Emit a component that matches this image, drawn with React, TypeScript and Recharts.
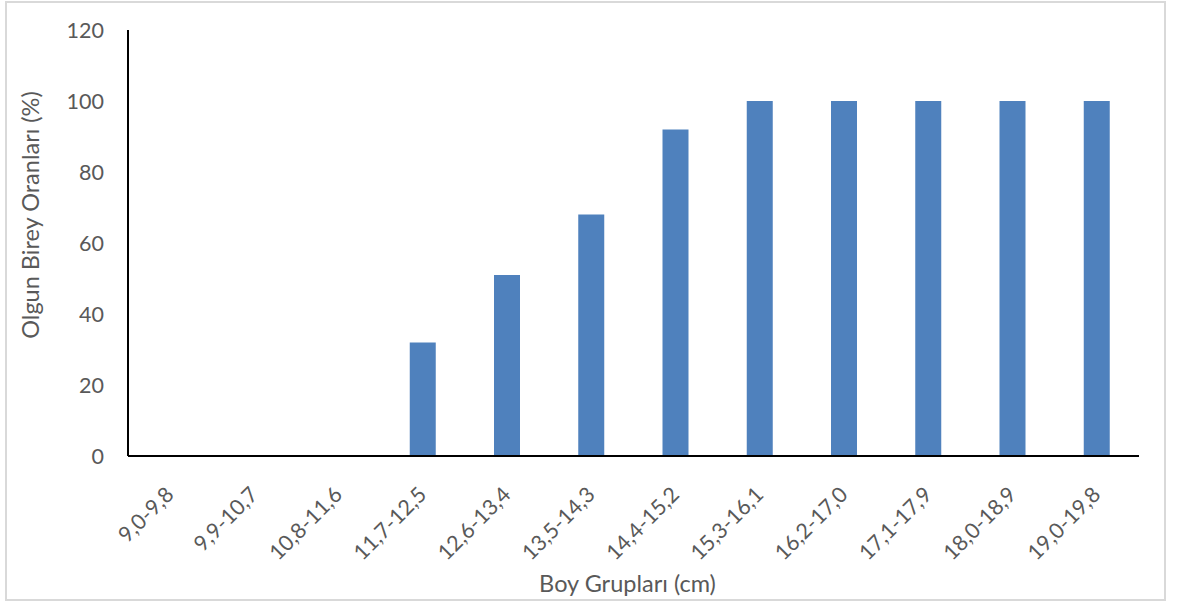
import React from 'react';
import { BarChart, Bar, XAxis, YAxis, Label } from 'recharts';

// boy grupları (cm) ve olgun birey oranları (%)
const groups = [
  '9,0-9,8', '9,9-10,7', '10,8-11,6', '11,7-12,5', '12,6-13,4', '13,5-14,3',
  '14,4-15,2', '15,3-16,1', '16,2-17,0', '17,1-17,9', '18,0-18,9', '19,0-19,8',
];
const matureRates = [0, 0, 0, 32, 51, 68, 92, 100, 100, 100, 100, 100];
const yTicks = [0, 20, 40, 60, 80, 100, 120];

const chartData = groups.map((g, i) => ({ group: g, rate: matureRates[i] }));

const FONT = 'Lato, "Open Sans", sans-serif';
const TEXT = '#595959';

const XTick = (props: any) => {
  const { x, y, payload } = props;
  const ax = x + 5;
  const ay = y + 32;
  return (
    <text
      x={ax}
      y={ay}
      textAnchor="end"
      transform={`rotate(-45 ${ax} ${ay})`}
      fontSize={21.5}
      fill={TEXT}
      fontFamily={FONT}
    >
      {payload.value}
    </text>
  );
};

const YTick = (props: any) => {
  const { x, y, payload } = props;
  return (
    <text x={x - 16} y={y} dy="0.36em" textAnchor="end" fontSize={21.5} fill={TEXT} fontFamily={FONT}>
      {payload.value}
    </text>
  );
};

export default function App() {
  return (
    <div style={{ position: 'absolute', left: 0, top: 0, width: 1184, height: 608, background: '#fff' }}>
      <div
        style={{
          position: 'absolute',
          left: 5,
          top: 1,
          width: 1161,
          height: 600,
          border: '2px solid #d9d9d9',
          boxSizing: 'border-box',
        }}
      />
      <BarChart
        width={1184}
        height={608}
        data={chartData}
        margin={{ top: 30, right: 45, left: 68, bottom: 52 }}
        barCategoryGap={0}
        style={{ position: 'absolute', left: 0, top: 0 }}
      >
        <XAxis
          dataKey="group"
          interval={0}
          height={100}
          tickLine={false}
          axisLine={{ stroke: '#000', strokeWidth: 2 }}
          tick={<XTick />}
        >
          <Label
            content={(p: any) => {
              const vb = p.viewBox;
              return (
                <text
                  x={vb.x + vb.width / 2 - 6}
                  y={vb.y + 136}
                  textAnchor="middle"
                  fontSize={23.5}
                  fill={TEXT}
                  fontFamily={FONT}
                >
                  Boy Grupları (cm)
                </text>
              );
            }}
          />
        </XAxis>
        <YAxis
          domain={[0, 120]}
          ticks={yTicks}
          width={60}
          tickLine={false}
          axisLine={{ stroke: '#000', strokeWidth: 2 }}
          tick={<YTick />}
        >
          <Label
            content={(p: any) => {
              const vb = p.viewBox;
              const cx = vb.x - 37;
              const cy = vb.y + vb.height / 2 - 28;
              return (
                <text
                  x={cx}
                  y={cy}
                  textAnchor="middle"
                  dy="0.36em"
                  transform={`rotate(-90 ${cx} ${cy})`}
                  fontSize={23.5}
                  fill={TEXT}
                  fontFamily={FONT}
                >
                  Olgun Birey Oranları (%)
                </text>
              );
            }}
          />
        </YAxis>
        <Bar dataKey="rate" fill="#4f81bd" barSize={26} isAnimationActive={false} />
      </BarChart>
    </div>
  );
}
